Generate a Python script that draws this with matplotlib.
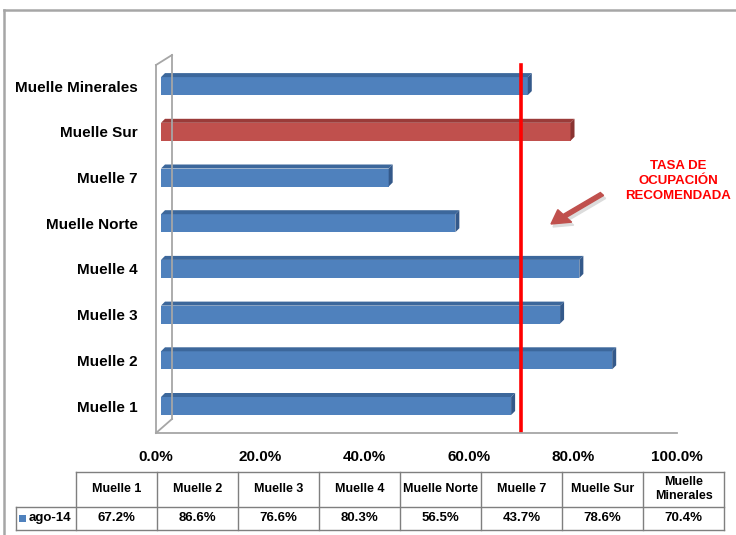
import matplotlib.pyplot as plt
from matplotlib.lines import Line2D
from matplotlib.patches import Polygon, Rectangle, FancyArrow

muelles = ['Muelle 1', 'Muelle 2', 'Muelle 3', 'Muelle 4', 'Muelle Norte',
           'Muelle 7', 'Muelle Sur', 'Muelle Minerales']
tabla_cab = ['Muelle 1', 'Muelle 2', 'Muelle 3', 'Muelle 4', 'Muelle Norte',
             'Muelle 7', 'Muelle Sur', 'Muelle\nMinerales']
ocupacion = [67.2, 86.6, 76.6, 80.3, 56.5, 43.7, 78.6, 70.4]
serie = 'ago-14'
tasa_recomendada = 70
resaltado = 'Muelle Sur'
xticks = [0, 20, 40, 60, 80, 100]

FONT = ['Liberation Sans Narrow', 'Liberation Sans', 'DejaVu Sans']
plt.rcParams['font.family'] = FONT

W, H = 736, 535
fig = plt.figure(figsize=(W / 100, H / 100), dpi=100)


def fx(px):
    return px / W


def fy(py):
    return 1 - py / H


def linea(x0, y0, x1, y1, color='#A6A6A6', lw=1.3):
    fig.add_artist(Line2D([fx(x0), fx(x1)], [fy(y0), fy(y1)], color=color, lw=lw,
                          transform=fig.transFigure))


# marco exterior
linea(4, 10, 736, 10, lw=1.8)
linea(4, 10, 4, 535, lw=1.8)

# ejes principales (0% en x=156px, 100% en x=677px)
x_izq, x_der, y_sup, y_inf = 156, 677, 55, 433
ax = fig.add_axes([fx(x_izq), fy(y_inf), fx(x_der - x_izq), (y_inf - y_sup) / H])
px_x = (x_der - x_izq) / 100.0
px_y = 45.7
ax.set_xlim(0, 100)
ax.set_ylim((406 - y_inf) / px_y, (406 - y_sup) / px_y)
for s in ax.spines.values():
    s.set_visible(False)

# paredes 3D
linea(156, 433, 156, 65)
linea(156, 65, 172, 55)
linea(172, 55, 172, 419)
linea(156, 433, 172, 419)
linea(156, 433, 677, 433)

# barras 3D
x0 = 5 / px_x
alto = 18 / px_y
ddx, ddy = 4 / px_x, 4 / px_y
for i, (nombre, v) in enumerate(zip(muelles, ocupacion)):
    if nombre == resaltado:
        c_fr, c_top, c_lado = '#C0504D', '#9B3B39', '#8A3432'
    else:
        c_fr, c_top, c_lado = '#4F81BD', '#3C679B', '#34598A'
    y_b, y_t = i - alto / 2, i + alto / 2
    ax.add_patch(Rectangle((x0, y_b), v, alto, facecolor=c_fr, edgecolor='none', zorder=2))
    ax.add_patch(Polygon([(x0, y_t), (x0 + v, y_t), (x0 + v + ddx, y_t + ddy), (x0 + ddx, y_t + ddy)],
                         closed=True, facecolor=c_top, edgecolor='none', zorder=2))
    ax.add_patch(Polygon([(x0 + v, y_b), (x0 + v + ddx, y_b + ddy), (x0 + v + ddx, y_t + ddy), (x0 + v, y_t)],
                         closed=True, facecolor=c_lado, edgecolor='none', zorder=2))

# linea de tasa recomendada
ax.axvline(tasa_recomendada, ymin=0, ymax=(y_inf - 65) / (y_inf - y_sup), color='#FF0000', lw=2.6, zorder=3)

ax.set_yticks(range(len(muelles)))
ax.set_yticklabels(muelles, fontsize=11, fontweight='bold')
ax.set_xticks(xticks)
ax.set_xticklabels([f'{t:.1f}%' for t in xticks], fontsize=11, fontweight='bold')
ax.tick_params(axis='y', length=0, pad=13)
ax.tick_params(axis='x', length=0, pad=12)

# anotacion
fig.add_artist(FancyArrow(fx(604), fy(197), fx(553) - fx(604), fy(227) - fy(197), width=0.007,
                          head_width=0.03, head_length=0.024, length_includes_head=True,
                          color='#DCDCDC', transform=fig.transFigure))
fig.add_artist(FancyArrow(fx(602), fy(194), fx(551) - fx(602), fy(224) - fy(194), width=0.007,
                          head_width=0.03, head_length=0.024, length_includes_head=True,
                          color='#C0504D', transform=fig.transFigure))
fig.text(fx(678), fy(181), 'TASA DE\nOCUPACIÓN\nRECOMENDADA', color='#FF0000', fontsize=9.5,
         fontweight='bold', ha='center', va='center', linespacing=1.35)

# tabla de datos
t_sup, t_med, t_inf = 472, 507, 530
col0, ancho = 76, 81
n = len(tabla_cab)
col_fin = col0 + n * ancho
lc = '#7F7F7F'
linea(col0, t_sup, col_fin, t_sup, color=lc, lw=1)
linea(16, t_med, col_fin, t_med, color=lc, lw=1)
linea(16, t_inf, col_fin, t_inf, color=lc, lw=1)
linea(16, t_med, 16, t_inf, color=lc, lw=1)
for k in range(n + 1):
    xx = col0 + k * ancho
    linea(xx, t_sup, xx, t_inf, color=lc, lw=1)
for k, (cab, v) in enumerate(zip(tabla_cab, ocupacion)):
    xc = col0 + (k + 0.5) * ancho
    fig.text(fx(xc), fy(489), cab, fontsize=9, fontweight='bold', ha='center', va='center',
             linespacing=1.25)
    fig.text(fx(xc), fy(518), f'{v:.1f}%', fontsize=9.5, fontweight='bold', ha='center', va='center')
fig.add_artist(Rectangle((fx(19), fy(522)), fx(7), 7 / H, facecolor='#4F81BD', edgecolor='none',
                         transform=fig.transFigure))
fig.text(fx(29), fy(518), serie, fontsize=9.5, fontweight='bold', ha='left', va='center')

fig.savefig('out.png', dpi=100)
